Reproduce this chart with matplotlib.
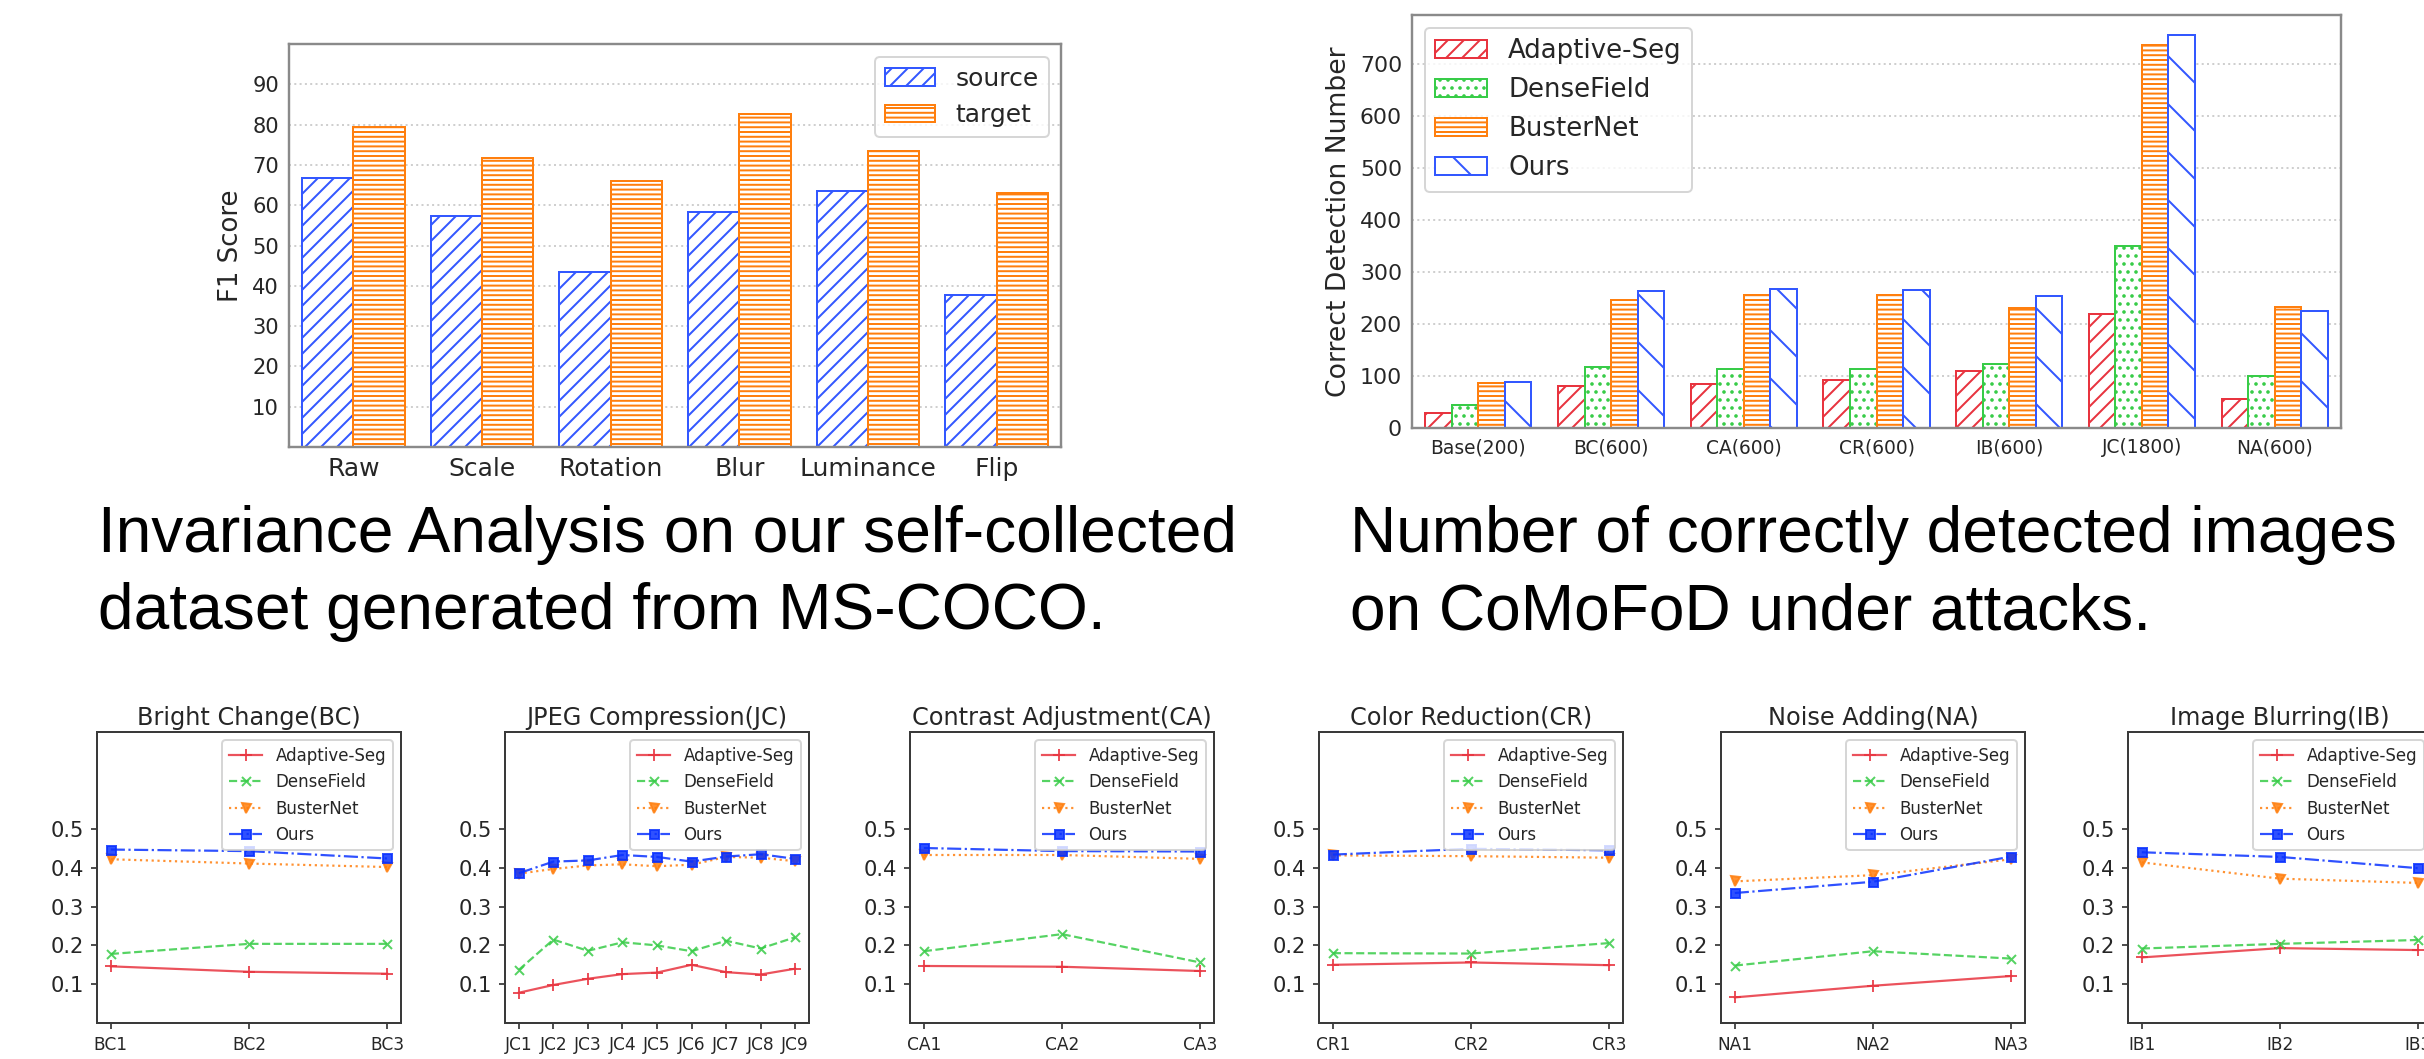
import numpy as np
import matplotlib
matplotlib.use("Agg")
import matplotlib.pyplot as plt

# ---- invariance analysis (top left)
inv_cats = ["Raw", "Scale", "Rotation", "Blur", "Luminance", "Flip"]
inv_source = [66.7, 57.2, 43.4, 58.2, 63.6, 37.7]
inv_target = [79.4, 71.7, 66.0, 82.7, 73.4, 63.0]

# ---- correct detections on CoMoFoD (top right)
det_cats = ["Base(200)", "BC(600)", "CA(600)", "CR(600)", "IB(600)", "JC(1800)", "NA(600)"]
det_adaptive = [28, 81, 85, 92, 110, 220, 56]
det_dense = [45, 117, 114, 114, 123, 351, 100]
det_buster = [87, 246, 256, 256, 230, 737, 233]
det_ours = [89, 263, 268, 266, 254, 757, 225]

# ---- F1 under attacks (bottom row)
attack_titles = ["Bright Change(BC)", "JPEG Compression(JC)", "Contrast Adjustment(CA)",
                 "Color Reduction(CR)", "Noise Adding(NA)", "Image Blurring(IB)"]
attack_ticks = [
    ["BC1", "BC2", "BC3"],
    ["JC1", "JC2", "JC3", "JC4", "JC5", "JC6", "JC7", "JC8", "JC9"],
    ["CA1", "CA2", "CA3"],
    ["CR1", "CR2", "CR3"],
    ["NA1", "NA2", "NA3"],
    ["IB1", "IB2", "IB3"],
]
f1_adaptive = [
    [0.146, 0.132, 0.127],
    [0.078, 0.098, 0.114, 0.126, 0.130, 0.150, 0.131, 0.125, 0.140],
    [0.147, 0.145, 0.134],
    [0.150, 0.156, 0.149],
    [0.066, 0.096, 0.121],
    [0.169, 0.193, 0.188],
]
f1_dense = [
    [0.178, 0.204, 0.204],
    [0.137, 0.215, 0.186, 0.208, 0.200, 0.185, 0.212, 0.192, 0.221],
    [0.185, 0.229, 0.156],
    [0.180, 0.179, 0.206],
    [0.148, 0.185, 0.166],
    [0.192, 0.204, 0.214],
]
f1_buster = [
    [0.422, 0.411, 0.402],
    [0.385, 0.397, 0.406, 0.409, 0.404, 0.408, 0.428, 0.426, 0.417],
    [0.433, 0.433, 0.423],
    [0.432, 0.430, 0.426],
    [0.365, 0.381, 0.422],
    [0.414, 0.372, 0.361],
]
f1_ours = [
    [0.447, 0.443, 0.424],
    [0.386, 0.416, 0.419, 0.433, 0.428, 0.416, 0.429, 0.435, 0.423],
    [0.451, 0.443, 0.442],
    [0.434, 0.449, 0.445],
    [0.335, 0.364, 0.429],
    [0.440, 0.428, 0.399],
]

RED = "#e8343f"
GREEN = "#38cc48"
ORANGE = "#ff7f0e"
BLUE = "#3358ff"
TXT = "#262626"

plt.rcParams["font.family"] = "DejaVu Sans"
plt.rcParams["hatch.linewidth"] = 1.0

W, H = 2424, 1059
DPI = 144
fig = plt.figure(figsize=(W / DPI, H / DPI), dpi=DPI)


def px_axes(left, top, right, bottom):
    return fig.add_axes([left / W, 1 - bottom / H, (right - left) / W, (bottom - top) / H])


def style_bar_axes(ax):
    for sp in ax.spines.values():
        sp.set_color("#8a8a8a")
        sp.set_linewidth(1.2)
    ax.set_axisbelow(True)
    ax.yaxis.grid(True, color="#cfcfcf", linestyle=":", linewidth=1.0)
    ax.tick_params(length=0, colors=TXT, pad=5)


# top left
ax = px_axes(289, 44, 1061, 447)
x = np.arange(len(inv_cats))
ax.bar(x - 0.2, inv_source, 0.4, color="white", edgecolor=BLUE, hatch="///", lw=1.0, label="source")
ax.bar(x + 0.2, inv_target, 0.4, color="white", edgecolor=ORANGE, hatch="-----", lw=1.0, label="target")
ax.set_xlim(-0.5, len(inv_cats) - 0.5)
ax.set_ylim(0, 100)
ax.set_yticks(range(10, 100, 10))
ax.set_xticks(x)
ax.set_xticklabels(inv_cats, fontsize=12.5)
ax.tick_params(axis="y", labelsize=10.5)
ax.set_ylabel("F1 Score", fontsize=13, color=TXT)
style_bar_axes(ax)
ax.legend(loc="upper right", fontsize=12.5, labelcolor=TXT)

# top right
ax = px_axes(1412, 15, 2341, 428)
x = np.arange(len(det_cats))
det_series = [("Adaptive-Seg", det_adaptive, RED, "///"),
              ("DenseField", det_dense, GREEN, "..."),
              ("BusterNet", det_buster, ORANGE, "-----"),
              ("Ours", det_ours, BLUE, "\\")]
for k, (name, vals, col, hat) in enumerate(det_series):
    ax.bar(x + (k - 1.5) * 0.2, vals, 0.2, color="white", edgecolor=col, hatch=hat, lw=1.0, label=name)
ax.set_xlim(-0.5, len(det_cats) - 0.5)
ax.set_xticks(x)
ax.set_xticklabels(det_cats, fontsize=9.3)
ax.tick_params(axis="y", labelsize=11)
ax.set_ylabel("Correct Detection Number", fontsize=13.3, color=TXT)
style_bar_axes(ax)
ax.legend(loc="upper left", fontsize=13, labelcolor=TXT)

# bottom row
lefts = [97, 505, 910, 1319, 1721, 2128]
for i, title in enumerate(attack_titles):
    ax = px_axes(lefts[i], 732, lefts[i] + 304, 1023)
    xs = np.arange(len(attack_ticks[i]))
    ax.plot(xs, f1_adaptive[i], color=RED, ls="-", marker="+", ms=6, lw=1.1, alpha=0.85, label="Adaptive-Seg")
    ax.plot(xs, f1_dense[i], color=GREEN, ls="--", marker="x", ms=4.5, lw=1.1, alpha=0.85, label="DenseField")
    ax.plot(xs, f1_buster[i], color=ORANGE, ls=":", marker="v", ms=4.5, lw=1.1, alpha=0.85, label="BusterNet")
    ax.plot(xs, f1_ours[i], color="#0a32ff", ls="-.", marker="s", ms=4.5, lw=1.1, alpha=0.85, label="Ours")
    ax.set_ylim(0, 0.75)
    ax.set_yticks([0.1, 0.2, 0.3, 0.4, 0.5])
    ax.set_xticks(xs)
    ax.set_xticklabels(attack_ticks[i], fontsize=8.5)
    ax.tick_params(axis="y", labelsize=10.5, length=3, colors=TXT)
    ax.tick_params(axis="x", length=3, colors=TXT)
    for sp in ax.spines.values():
        sp.set_color("#3a3a3a")
        sp.set_linewidth(1.0)
    ax.set_title(title, fontsize=12, pad=3.5, color=TXT)
    ax.legend(loc="upper right", fontsize=8.3, labelcolor=TXT)

# captions
cap_font = dict(family="Liberation Sans", fontsize=32, color="black", va="baseline", ha="left")
fig.text(98 / W, 1 - 552 / H, "Invariance Analysis on our self-collected", **cap_font)
fig.text(98 / W, 1 - 629 / H, "dataset generated from MS-COCO.", **cap_font)
fig.text(1350 / W, 1 - 552 / H, "Number of correctly detected images", **cap_font)
fig.text(1350 / W, 1 - 629 / H, "on CoMoFoD under attacks.", **cap_font)

fig.savefig("out.png", dpi=DPI)
plt.close(fig)
